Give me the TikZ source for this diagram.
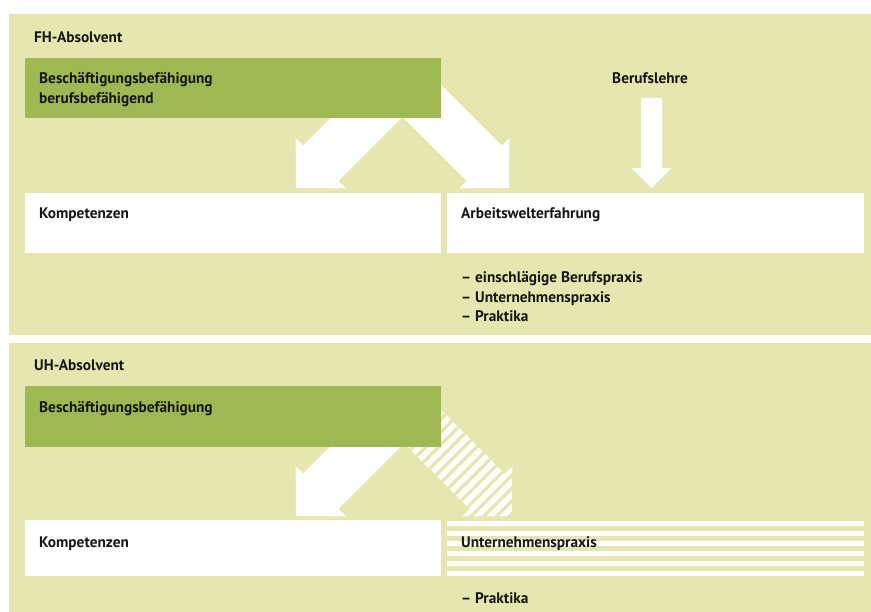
\documentclass[tikz,border=0pt]{standalone}
\usepackage{fontspec}
\setmainfont{PT Sans}
\usetikzlibrary{calc,patterns.meta}

\definecolor{panel}{RGB}{230,231,176}
\definecolor{leaf}{RGB}{158,184,84}
\definecolor{ink}{RGB}{22,22,20}

\newcommand{\blockarrow}[6][fill=white]{%
  \coordinate (hb) at ($(#3)!#6!(#2)$);
  \path[#1] ($(#2)!#4!90:(#3)$) -- ($(hb)!#4!-90:(#2)$) -- ($(hb)!#5!-90:(#2)$) -- (#3)
    -- ($(hb)!#5!90:(#2)$) -- ($(hb)!#4!90:(#2)$) -- ($(#2)!#4!-90:(#3)$) -- cycle;}

\tikzset{
  box/.style={fill=white, inner sep=0pt, minimum width=416pt, minimum height=60pt, anchor=north west},
  greenbox/.style={box, fill=leaf},
  lbl/.style={inner sep=0pt, anchor=base west, text=ink, font=\bfseries\fontsize{15.3}{17}\selectfont},
}

\begin{document}
\begin{tikzpicture}[x=1pt,y=-1pt]
\useasboundingbox (0,0) rectangle (871,612);
\fill[panel] (9,14) rectangle (871,335.5); \fill[panel] (9,343) rectangle (871,612);

\coordinate (fhsrcl) at (395,89); \coordinate (fhtipl) at (296,188);
\coordinate (fhsrcr) at (405,84); \coordinate (fhtipr) at (509,188);
\coordinate (lehresrc) at (651.5,98); \coordinate (lehretip) at (651.5,188);
\coordinate (uhsrcl) at (395,417); \coordinate (uhtipl) at (296,516);
\coordinate (uhsrcr) at (408,412); \coordinate (uhtipr) at (512,516);

\blockarrow{fhsrcl}{fhtipl}{25pt}{35.5pt}{35pt}
\blockarrow{fhsrcr}{fhtipr}{25pt}{35.5pt}{35pt}
\blockarrow{lehresrc}{lehretip}{10.5pt}{20pt}{20pt}
\blockarrow{uhsrcl}{uhtipl}{25pt}{35.5pt}{35pt}
\blockarrow[pattern={Lines[angle=45,distance=9pt,line width=5.5pt]},pattern color=white]{uhsrcr}{uhtipr}{25pt}{35.5pt}{35pt}

\node[greenbox] (fhbox) at (25,58) {};
\node[box] (fhkomp) at (25,193) {}; \node[box, minimum width=417pt] (fharb) at (447,193) {};
\node[greenbox, minimum height=61pt] (uhbox) at (25,386) {};
\node[box, minimum height=56pt] (uhkomp) at (25,520) {};
\node[box, fill=none, minimum width=417pt, minimum height=56pt] (uhunt) at (447,520) {};
\foreach \k in {0,...,5} \fill[white] (447,521+10*\k) rectangle (864,525.7+10*\k);

\node[lbl] (fhtitle) at (34,43) {FH-Absolvent};
\node[lbl] (fhbesch) at (39,84) {Beschäftigungsbefähigung}; \node[lbl] (fhberuf) at (39,104) {berufsbefähigend};
\node[lbl, anchor=base] (lehre) at (650,84) {Berufslehre};
\node[lbl] (fhkomptxt) at (39,219) {Kompetenzen}; \node[lbl] (fharbtxt) at (461,219) {Arbeitswelterfahrung};
\node[lbl] (fhlist1) at (461,283) {– einschlägige Berufspraxis};
\node[lbl] (fhlist2) at (461,302.5) {– Unternehmenspraxis};
\node[lbl] (fhlist3) at (461,322) {– Praktika};
\node[lbl] (uhtitle) at (34,371) {UH-Absolvent};
\node[lbl] (uhbesch) at (39,412.5) {Beschäftigungsbefähigung};
\node[lbl] (uhkomptxt) at (39,547) {Kompetenzen}; \node[lbl] (uhunttxt) at (461,547) {Unternehmenspraxis};
\node[lbl] (uhlist) at (461,603) {– Praktika};
\end{tikzpicture}
\end{document}
